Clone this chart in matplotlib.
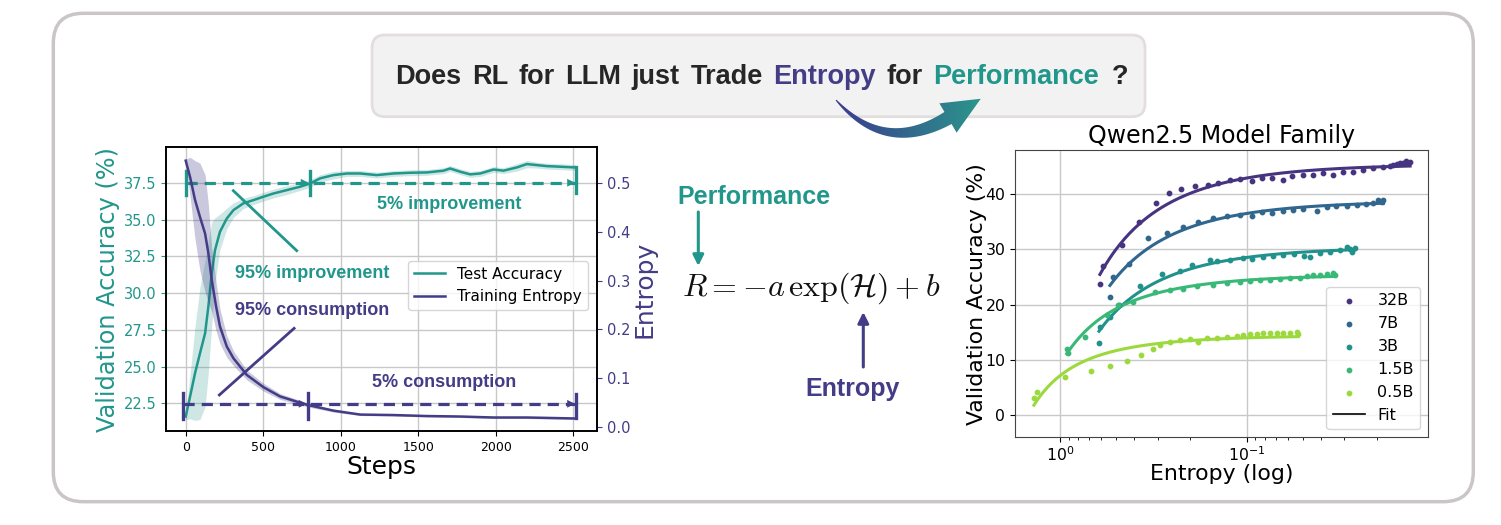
import numpy as np
import matplotlib
matplotlib.use("Agg")
import matplotlib.pyplot as plt
from matplotlib.patches import FancyBboxPatch, Polygon
from matplotlib.colors import LinearSegmentedColormap
from matplotlib.lines import Line2D

TEAL = "#21968b"
PURPLE = "#433c86"
DARK = "#262626"
BOLD = "Liberation Sans"

# ---- left panel: one training run ----
acc_steps = [0, 28, 60, 92, 125, 146, 168, 189, 221, 265, 308, 372, 437, 501, 566,
             652, 738, 802, 867, 953, 1039, 1125, 1232, 1340, 1447, 1555, 1662, 1705,
             1770, 1834, 1899, 1985, 2049, 2135, 2200, 2265, 2329, 2415, 2512]
test_acc = [21.6, 22.95, 24.54, 25.9, 27.26, 29.07, 31.34, 32.92, 34.17, 35.07, 35.64,
            36.1, 36.32, 36.55, 36.77, 37.0, 37.23, 37.45, 37.8, 38.02, 38.13, 38.13,
            38.02, 38.13, 38.18, 38.2, 38.32, 38.47, 38.25, 38.07, 38.13, 38.4, 38.32,
            38.54, 38.77, 38.7, 38.63, 38.59, 38.54]
test_acc_std = [0.2, 1.5, 3.2, 4.5, 5.0, 4.5, 3.5, 2.2, 1.2, 0.7, 0.5, 0.35, 0.3, 0.3,
                0.3, 0.3, 0.25, 0.25, 0.25, 0.25, 0.2, 0.2, 0.2, 0.2, 0.2, 0.2, 0.2,
                0.2, 0.2, 0.2, 0.2, 0.2, 0.2, 0.25, 0.25, 0.2, 0.2, 0.2, 0.2]

ent_steps = [0, 28, 60, 92, 125, 146, 168, 196, 221, 265, 308, 394, 501, 609, 781,
             953, 1125, 1340, 1555, 1770, 1985, 2200, 2512]
train_entropy = [0.545, 0.512, 0.465, 0.430, 0.396, 0.356, 0.301, 0.247, 0.206, 0.165,
                 0.141, 0.107, 0.082, 0.063, 0.046, 0.034, 0.026, 0.025, 0.023, 0.022,
                 0.020, 0.020, 0.018]
train_entropy_std = [0.003, 0.04, 0.08, 0.11, 0.12, 0.10, 0.065, 0.05, 0.035, 0.022,
                     0.015, 0.01, 0.008, 0.006, 0.004, 0.003, 0.002, 0.002, 0.002,
                     0.002, 0.002, 0.002, 0.002]

# 95% / 5% split markers
acc_level = 37.5
ent_level = 0.048
acc_95_step = 800
ent_95_step = 787
end_step = 2518

# ---- right panel: Qwen2.5 family, entropy vs validation accuracy ----
models = ["32B", "7B", "3B", "1.5B", "0.5B"]
ent_32b = [0.611, 0.586, 0.467, 0.376, 0.306, 0.260, 0.225, 0.188, 0.162, 0.142, 0.123,
           0.109, 0.094, 0.083, 0.0735, 0.0636, 0.0574, 0.0497, 0.044, 0.0388, 0.0343,
           0.0303, 0.0268, 0.0237, 0.021, 0.0185, 0.0171, 0.0165, 0.0157, 0.015,
           0.0145, 0.014, 0.0138, 0.0133]
acc_32b = [23.7, 26.9, 30.8, 34.9, 38.4, 40.2, 40.9, 41.5, 41.6, 42.0, 42.6, 42.7, 42.3,
           42.9, 42.9, 42.6, 43.2, 43.4, 43.5, 43.8, 43.5, 44.1, 44.1, 44.4, 44.7, 44.9,
           45.1, 45.3, 45.5, 45.6, 45.7, 46.0, 45.7, 45.9]
ent_7b = [0.540, 0.518, 0.425, 0.336, 0.268, 0.218, 0.182, 0.151, 0.128, 0.109, 0.094,
          0.083, 0.0735, 0.0636, 0.0562, 0.0497, 0.0422, 0.0373, 0.033, 0.0291, 0.0257,
          0.0228, 0.021, 0.0197, 0.0189, 0.0185]
acc_7b = [21.4, 25.0, 27.4, 32.0, 32.9, 34.0, 34.9, 35.6, 36.1, 36.3, 36.1, 36.7, 36.6,
          36.9, 37.2, 37.3, 37.0, 37.6, 37.8, 37.9, 38.1, 38.2, 38.4, 38.9, 38.6, 39.0]
ent_3b = [0.618, 0.61, 0.54, 0.481, 0.373, 0.285, 0.228, 0.197, 0.157, 0.145, 0.123,
          0.104, 0.094, 0.082, 0.072, 0.064, 0.056, 0.049, 0.046, 0.0405, 0.0358,
          0.0316, 0.029, 0.028, 0.0273, 0.0263]
acc_3b = [13.0, 16.0, 17.8, 20.0, 23.3, 25.5, 26.0, 27.2, 28.0, 27.8, 28.1, 28.4, 28.3,
          28.7, 28.8, 29.0, 29.2, 28.8, 28.7, 29.4, 29.6, 29.9, 30.4, 30.0, 29.6, 30.2]
ent_1p5b = [0.92, 0.91, 0.735, 0.562, 0.487, 0.405, 0.31, 0.258, 0.22, 0.185, 0.151,
            0.128, 0.109, 0.096, 0.085, 0.075, 0.066, 0.0587, 0.052, 0.0477, 0.044,
            0.0405, 0.0373, 0.0343, 0.0336]
acc_1p5b = [11.9, 11.2, 14.2, 18.1, 19.9, 20.4, 22.2, 22.7, 22.8, 23.3, 23.6, 23.9, 24.0,
            24.2, 24.4, 24.5, 24.6, 24.8, 24.8, 25.1, 25.3, 25.4, 25.5, 25.7, 25.4]
ent_0p5b = [1.38, 1.32, 0.94, 0.685, 0.54, 0.44, 0.368, 0.319, 0.291, 0.258, 0.228, 0.201,
            0.182, 0.164, 0.145, 0.128, 0.113, 0.104, 0.096, 0.0884, 0.0814, 0.075,
            0.069, 0.0636, 0.0586, 0.054, 0.0529]
acc_0p5b = [3.0, 4.1, 6.8, 7.9, 8.8, 9.7, 10.9, 11.9, 12.7, 13.2, 13.6, 13.7, 13.2, 13.9,
            14.0, 14.2, 14.3, 14.5, 14.7, 14.7, 14.8, 14.8, 14.9, 14.9, 14.9, 15.1, 14.7]
model_colors = [plt.cm.viridis(v) for v in np.linspace(0.15, 0.85, 5)]

title_words = [("Does", DARK), ("RL", DARK), ("for", DARK), ("LLM", DARK),
               ("just", DARK), ("Trade", DARK), ("Entropy", PURPLE), ("for", DARK),
               ("Performance", TEAL), ("?", DARK)]

W, H = 1501, 525
fig = plt.figure(figsize=(W / 100, H / 100), dpi=100)

# ---- background layer in pixel coordinates ----
bg = fig.add_axes([0, 0, 1, 1])
bg.set_axis_off()
bg.add_patch(FancyBboxPatch((53.3, 13.3), 1420, 488.4,
                            boxstyle="round,pad=0,rounding_size=30",
                            fc="white", ec="#cbc6c6", lw=2.5, zorder=1))
bg.add_patch(FancyBboxPatch((372, 35), 773, 81.7,
                            boxstyle="round,pad=0,rounding_size=13",
                            fc="#f2f2f2", ec="#e3dede", lw=2, zorder=2))

# title, word by word (the original has wide word spacing)
t = None
for word, col in title_words:
    kw = dict(fontsize=19.5, fontweight="bold", family=BOLD, color=col, zorder=4)
    if t is None:
        t = bg.text(395, 77, word, ha="left", va="center", **kw)
    else:
        gap = 9.5 if word == "?" else 7.6
        t = bg.annotate(word, xy=(1, 0), xycoords=t, xytext=(gap, 0),
                        textcoords="offset points", ha="left", va="bottom", **kw)

# curved gradient arrow
P0 = np.array([836.0, 100.0])
P1 = np.array([885.0, 155.0])
P2 = np.array([948.0, 118.0])
tt = np.linspace(0, 1, 60)[:, None]
curve = (1 - tt) ** 2 * P0 + 2 * (1 - tt) * tt * P1 + tt ** 2 * P2
deriv = 2 * (1 - tt) * (P1 - P0) + 2 * tt * (P2 - P1)
normal = np.column_stack([-deriv[:, 1], deriv[:, 0]]) / np.linalg.norm(deriv, axis=1)[:, None]
half = 0.5 + 6.5 * tt[:, 0] ** 0.8
upper = curve + half[:, None] * normal
lower = curve - half[:, None] * normal
d2 = (P2 - P1) / np.linalg.norm(P2 - P1)
perp = np.array([-d2[1], d2[0]])
head = np.array([P2 + 17 * perp, P2 + 38 * d2, P2 - 17 * perp])
shape = Polygon(np.vstack([upper, head, lower[::-1]]), closed=True, fc="none", ec="none")
bg.add_patch(shape)
grad_cmap = LinearSegmentedColormap.from_list("arr", ["#3b3a8e", "#2a9a8c"])
im = bg.imshow(np.linspace(0, 1, 256)[None, :], cmap=grad_cmap, aspect="auto",
               extent=(834, 988, 146, 90), origin="upper", zorder=5)
im.set_clip_path(shape)

# middle formula block
bg.text(754, 197, "Performance", fontsize=18, fontweight="bold", family=BOLD,
        color=TEAL, ha="center", va="center")
bg.annotate("", xy=(698.3, 266), xytext=(698.3, 212),
            arrowprops=dict(arrowstyle="-|>", color=TEAL, lw=2.2, mutation_scale=16,
                            shrinkA=0, shrinkB=0))
bg.text(811.7, 288.3, r"$R = -a\,\exp(\mathcal{H}) + b$", fontsize=23,
        math_fontfamily="cm", color="#111111", ha="center", va="center")
bg.annotate("", xy=(863.3, 312), xytext=(863.3, 367),
            arrowprops=dict(arrowstyle="-|>", color=PURPLE, lw=2.2, mutation_scale=16,
                            shrinkA=0, shrinkB=0))
bg.text(852.5, 389, "Entropy", fontsize=18, fontweight="bold", family=BOLD,
        color=PURPLE, ha="center", va="center")
bg.set_xlim(0, W)
bg.set_ylim(H, 0)

# ---- left chart ----
ax = fig.add_axes([166 / W, 1 - 431 / H, 431 / W, 283.7 / H])
ax2 = ax.twinx()

a_s = np.array(acc_steps)
a_v = np.array(test_acc)
a_e = np.array(test_acc_std)
e_s = np.array(ent_steps)
e_v = np.array(train_entropy)
e_e = np.array(train_entropy_std)

ax.fill_between(a_s, a_v - a_e, a_v + a_e, color=TEAL, alpha=0.22, lw=0)
l1, = ax.plot(a_s, a_v, color=TEAL, lw=1.8, label="Test Accuracy")
ax2.fill_between(e_s, e_v - e_e, e_v + e_e, color=PURPLE, alpha=0.28, lw=0)
l2, = ax2.plot(e_s, e_v, color=PURPLE, lw=1.8, label="Training Entropy")

dash = (0, (3.5, 2.2))
# accuracy split markers
ax.plot([0, end_step], [acc_level, acc_level], color=TEAL, lw=2.3, ls=dash)
for s in [0, acc_95_step]:
    ax.plot([s, s], [acc_level - 0.85, acc_level + 0.8], color=TEAL, lw=2.4)
ax.plot([end_step, end_step], [acc_level - 0.7, test_acc[-1]], color=TEAL, lw=2.4)
for s in [acc_95_step, end_step]:
    ax.annotate("", xy=(s - 8, acc_level), xytext=(s - 90, acc_level),
                arrowprops=dict(arrowstyle="-|>", color=TEAL, lw=0, mutation_scale=14,
                                shrinkA=0, shrinkB=0))
# entropy split markers
ax2.plot([-15, end_step], [ent_level, ent_level], color=PURPLE, lw=2.3, ls=dash)
for s in [-15, ent_95_step]:
    ax2.plot([s, s], [ent_level - 0.031, ent_level + 0.022], color=PURPLE, lw=2.4)
ax2.plot([end_step, end_step], [train_entropy[-1], ent_level + 0.02], color=PURPLE, lw=2.4)
for s in [ent_95_step, end_step]:
    ax2.annotate("", xy=(s - 8, ent_level), xytext=(s - 90, ent_level),
                 arrowprops=dict(arrowstyle="-|>", color=PURPLE, lw=0, mutation_scale=14,
                                 shrinkA=0, shrinkB=0))

ax.plot([307, 716], [36.96, 32.88], color=TEAL, lw=2.0)
ax.plot([217, 699], [23.07, 27.6], color=PURPLE, lw=2.0)
ax.text(318, 31.34, "95% improvement", color=TEAL, fontsize=13, fontweight="bold",
        family=BOLD, ha="left", va="center")
ax.text(318, 28.84, "95% consumption", color=PURPLE, fontsize=13, fontweight="bold",
        family=BOLD, ha="left", va="center")
ax.text(1696, 36.05, "5% improvement", color=TEAL, fontsize=13, fontweight="bold",
        family=BOLD, ha="center", va="center")
ax.text(1667, 23.93, "5% consumption", color=PURPLE, fontsize=13, fontweight="bold",
        family=BOLD, ha="center", va="center")

ax.set_xlim(-127, 2652)
ax.set_ylim(20.62, 39.91)
ax2.set_ylim(-0.0076, 0.5723)
ax.set_xticks([0, 500, 1000, 1500, 2000, 2500])
ax.set_yticks([22.5, 25.0, 27.5, 30.0, 32.5, 35.0, 37.5])
ax2.set_yticks([0.0, 0.1, 0.2, 0.3, 0.4, 0.5])
ax.grid(True, color="#c8c8c8", lw=1.0)
ax.set_axisbelow(True)
ax.tick_params(axis="x", labelsize=9)
ax.tick_params(axis="y", labelsize=10.5, labelcolor=TEAL, color=TEAL)
ax2.tick_params(axis="y", labelsize=10.5, labelcolor=PURPLE, color=PURPLE)
for sp in ax.spines.values():
    sp.set_linewidth(1.2)
for sp in ax2.spines.values():
    sp.set_linewidth(1.2)
ax.set_xlabel("Steps", fontsize=18)
ax.xaxis.set_label_coords(0.5, -0.085)
ax.set_ylabel("Validation Accuracy (%)", fontsize=17.3, color=TEAL)
ax.yaxis.set_label_coords(-0.107, 0.5)
ax2.set_ylabel("Entropy", fontsize=18, color=PURPLE)
ax2.yaxis.set_label_coords(1.083, 0.5)
ax2.legend(handles=[l1, l2], loc="center", bbox_to_anchor=(0.77, 0.513), fontsize=11)

# ---- right chart ----
axr = fig.add_axes([1015 / W, 1 - 437.3 / H, 413.3 / W, 287.3 / H])
series = [(ent_32b, acc_32b), (ent_7b, acc_7b), (ent_3b, acc_3b),
          (ent_1p5b, acc_1p5b), (ent_0p5b, acc_0p5b)]
handles = []
for name, (hx, ry), col in zip(models, series, model_colors):
    hx = np.array(hx)
    ry = np.array(ry)
    handles.append(axr.scatter(hx, ry, s=10, color=col, label=name, zorder=3))
    # R = -a exp(H) + b, least squares on exp(H)
    slope, intercept = np.polyfit(np.exp(hx), ry, 1)
    hh = np.geomspace(hx.min(), hx.max(), 200)
    axr.plot(hh, slope * np.exp(hh) + intercept, color=col, lw=2.2, zorder=2)
handles.append(Line2D([], [], color="black", lw=1.2, label="Fit"))
axr.set_xscale("log")
axr.set_xlim(1.742, 0.01063)
axr.set_ylim(-4.05, 48.0)
axr.set_yticks([0, 10, 20, 30, 40])
axr.grid(True, which="major", color="#c8c8c8", lw=1.0)
axr.set_axisbelow(True)
axr.tick_params(labelsize=11.3)
axr.tick_params(axis="x", pad=2)
for sp in axr.spines.values():
    sp.set_color("#444444")
axr.set_title("Qwen2.5 Model Family", fontsize=17, y=1.0254, pad=0)
axr.set_xlabel("Entropy (log)", fontsize=15.8)
axr.xaxis.set_label_coords(0.5, -0.092)
axr.set_ylabel("Validation Accuracy (%)", fontsize=15.8)
axr.yaxis.set_label_coords(-0.068, 0.5)
axr.legend(handles=handles, loc="lower right", fontsize=11.5)

fig.savefig("out.png", dpi=100)
